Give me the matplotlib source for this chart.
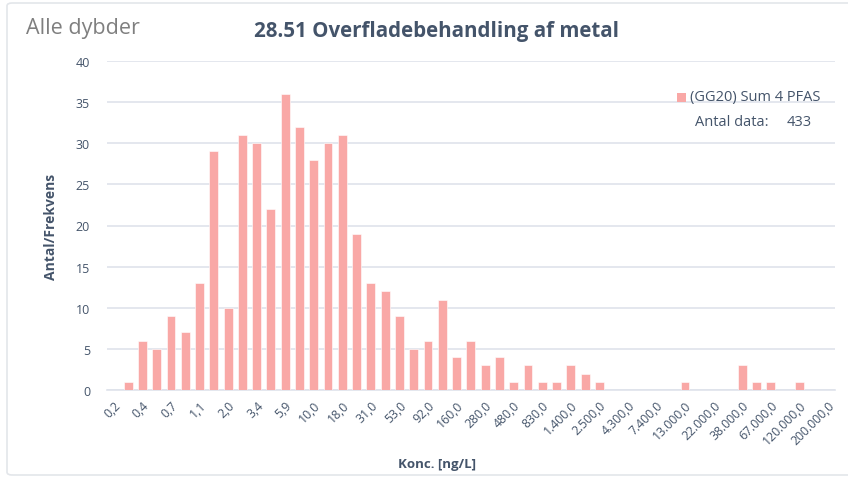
import matplotlib
matplotlib.use("Agg")
import matplotlib.pyplot as plt
from matplotlib.patches import Rectangle, FancyBboxPatch

# Concentration classes (every other class carries a label)
tick_labels = ["0,2", "0,4", "0,7", "1,1", "2,0", "3,4", "5,9", "10,0", "18,0",
               "31,0", "53,0", "92,0", "160,0", "280,0", "480,0", "830,0",
               "1.400,0", "2.500,0", "4.300,0", "7.400,0", "13.000,0",
               "22.000,0", "38.000,0", "67.000,0", "120.000,0", "200.000,0"]

# Count per concentration class (51 classes)
counts = [0, 1, 6, 5, 9, 7, 13, 29, 10, 31, 30, 22, 36, 32, 28, 30, 31, 19,
          13, 12, 9, 5, 6, 11, 4, 6, 3, 4, 1, 3, 1, 1, 3, 2, 1, 0, 0, 0, 0,
          0, 1, 0, 0, 0, 3, 1, 1, 0, 1, 0, 0]

series_name = "(GG20) Sum 4 PFAS"
n_data = 433

bar_color = "#F9A8A6"
grid_color = "#DFE3EB"
text_color = "#44546A"

plt.rcParams["font.family"] = ["Open Sans", "DejaVu Sans"]

fig = plt.figure(figsize=(8.48, 4.81), dpi=100)
fig.patch.set_facecolor("white")

# outer frame
frame = FancyBboxPatch((7 / 848, 5 / 481), 850 / 848, 472 / 481,
                       boxstyle="round,pad=0,rounding_size=0.006",
                       transform=fig.transFigure, facecolor="none",
                       edgecolor="#E3E6EA", linewidth=1.2)
fig.patches.append(frame)

ax = fig.add_axes([106.7 / 848, 1 - 391 / 481, (835 - 106.7) / 848, (391 - 62) / 481])
x = list(range(len(counts)))
ax.bar(x, counts, width=0.62, color=bar_color, edgecolor="white",
       linewidth=0.4, zorder=3)

ax.set_xlim(-0.5, len(counts) - 0.5)
ax.set_ylim(0, 40)
ax.set_yticks(range(0, 41, 5))
ax.yaxis.grid(True, color=grid_color, linewidth=1.2, zorder=0)
ax.set_axisbelow(True)
for side in ("top", "right", "left"):
    ax.spines[side].set_visible(False)
ax.spines["bottom"].set_color(grid_color)
ax.spines["bottom"].set_linewidth(1.2)
ax.spines["bottom"].set_zorder(1)

ax.set_xticks(x[::2])
ax.set_xticklabels(tick_labels, rotation=45, ha="right", va="top",
                   rotation_mode="anchor", fontsize=8.8, color=text_color)
ax.tick_params(axis="x", length=0, pad=6)
ax.tick_params(axis="y", length=0, pad=12, labelsize=9, labelcolor=text_color)

ax.set_ylabel("Antal/Frekvens", fontsize=10, fontweight="bold",
              color=text_color, labelpad=13)
fig.text(437 / 848, 1 - 465 / 481, "Konc. [ng/L]", fontsize=9.5,
         fontweight="bold", color=text_color, ha="center", va="center")

fig.text(437 / 848, 1 - 31 / 481, "28.51 Overfladebehandling af metal",
         fontsize=14.8, fontweight="bold", color=text_color,
         ha="center", va="center")
fig.text(26 / 848, 1 - 29 / 481, "Alle dybder", fontsize=15.5,
         color="#7F7F7F", ha="left", va="center")

# legend entry and data count
fig.patches.append(Rectangle((677 / 848, 1 - 103 / 481), 9 / 848, 9 / 481,
                             transform=fig.transFigure, facecolor=bar_color,
                             edgecolor="none"))
fig.text(690 / 848, 1 - 98 / 481, series_name, fontsize=10.5,
         color=text_color, ha="left", va="center")
fig.text(695 / 848, 1 - 123 / 481, "Antal data:", fontsize=10.5,
         color=text_color, ha="left", va="center")
fig.text(812 / 848, 1 - 123 / 481, str(n_data), fontsize=10.5,
         color=text_color, ha="right", va="center")

fig.savefig("out.png", dpi=100, facecolor="white")
